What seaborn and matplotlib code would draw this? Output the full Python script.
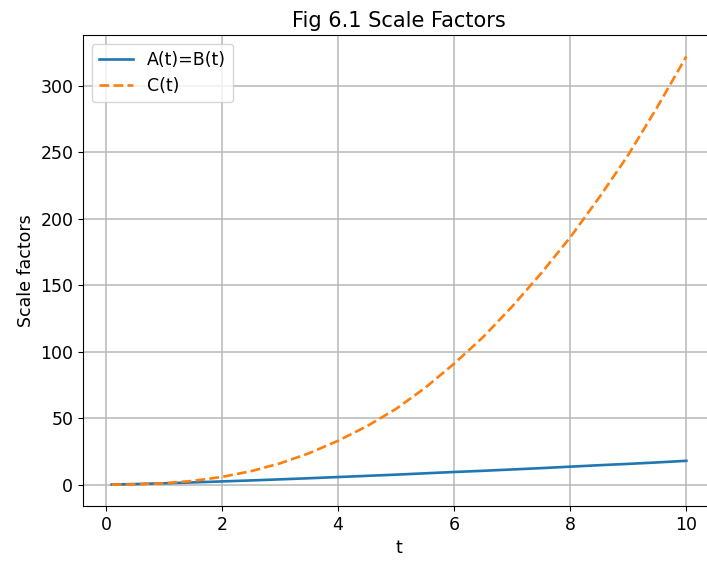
import numpy as np
import pandas as pd
import matplotlib
matplotlib.use('Agg')
import matplotlib.pyplot as plt
import seaborn as sns

# values
t = [0.1, 0.5, 1.0, 1.5, 2.0, 2.5, 3.0, 3.5, 4.0, 4.5, 5.0,
     5.5, 6.0, 6.5, 7.0, 7.5, 8.0, 8.5, 9.0, 9.5, 10.0]
a_t = [0.06, 0.42, 1.0, 1.66, 2.4, 3.15, 3.95, 4.8, 5.7, 6.6, 7.5,
       8.5, 9.5, 10.4, 11.4, 12.4, 13.5, 14.6, 15.6, 16.7, 17.9]
c_t = [0.0, 0.18, 1.0, 2.8, 5.8, 10.1, 16.0, 23.6, 33.0, 44.0, 57.0,
       72.8, 91.0, 111.0, 134.0, 159.0, 186.0, 216.0, 248.0, 284.0, 322.0]

df = pd.DataFrame({'t': t, 'A': a_t, 'C': c_t})

plt.rcParams['font.family'] = ['DejaVu Sans']
plt.rcParams['font.size'] = 12.5
plt.rcParams['lines.linewidth'] = 1.9
plt.rcParams['grid.color'] = '#b8b8b8'
plt.rcParams['grid.linewidth'] = 1.1

fig = plt.figure(figsize=(7.07, 5.62), dpi=100)
# axes runs a little past the right edge, as in the (cropped) reference
ax = fig.add_axes([0.1174, 0.0996, 0.894, 0.838])

sns.lineplot(data=df, x='t', y='A', ax=ax, color='tab:blue', label='A(t)=B(t)')
sns.lineplot(data=df, x='t', y='C', ax=ax, color='tab:orange', linestyle='--', label='C(t)')

ax.set_title('Fig 6.1 Scale Factors')
ax.set_xlabel('t')
ax.set_ylabel('Scale factors')
ax.grid(True)
ax.legend(loc='upper left')

fig.savefig('out.png', dpi=100)
